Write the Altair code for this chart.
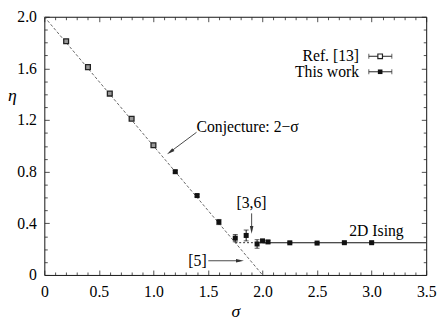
import math
import altair as alt
import pandas as pd

# ---------------- data ----------------
ref_sigma = [0.2, 0.4, 0.6, 0.8, 1.0]
ref_eta = [1.81, 1.61, 1.405, 1.21, 1.005]
ref_err = [0.01, 0.01, 0.01, 0.01, 0.01]

this_sigma = [1.2, 1.4, 1.6, 1.75, 1.85, 1.95, 2.0, 2.05, 2.25, 2.5, 2.75, 3.0]
this_eta = [0.80, 0.615, 0.41, 0.285, 0.306, 0.24, 0.264, 0.256, 0.249, 0.247, 0.25, 0.25]
this_err = [0.01, 0.01, 0.02, 0.028, 0.042, 0.033, 0.01, 0.01, 0.006, 0.006, 0.006, 0.006]

conj_sigma = [0.0, 2.0]
conj_eta = [2.0, 0.0]

ising_eta = 0.25
ising_dotted = [1.75, 2.0]
ising_solid = [2.0, 3.5]

x_ticks = [0.0, 0.1, 0.2, 0.3, 0.4, 0.5, 0.6, 0.7, 0.8, 0.9, 1.0, 1.1, 1.2, 1.3, 1.4, 1.5,
           1.6, 1.7, 1.8, 1.9, 2.0, 2.1, 2.2, 2.3, 2.4, 2.5, 2.6, 2.7, 2.8, 2.9, 3.0, 3.1,
           3.2, 3.3, 3.4, 3.5]
y_ticks = [0.0, 0.1, 0.2, 0.3, 0.4, 0.5, 0.6, 0.7, 0.8, 0.9, 1.0, 1.1, 1.2, 1.3, 1.4, 1.5,
           1.6, 1.7, 1.8, 1.9, 2.0]

# annotations (data coordinates)
notes_left = {"text": ["Conjecture: 2\u2212\u03c3"], "x": [1.395], "y": [1.143]}
notes_center = {"text": ["[3,6]", "[5]", "2D Ising"], "x": [1.899, 1.404, 3.044], "y": [0.56, 0.104, 0.34]}
arrows = {"x": [1.395, 1.90, 1.503], "y": [1.105, 0.477, 0.11],
          "x2": [1.125, 1.90, 1.829], "y2": [0.935, 0.319, 0.11]}

legend_labels = ["Ref. [13]", "This work"]
legend_label_x = 2.885
legend_y = [1.694, 1.574]
legend_sym_x = 3.078
legend_bar = [2.974, 3.185]

# ---------------- layout ----------------
W, H = 389, 263
XD, YD = [0, 3.5], [0, 2]
SX, SY = W / (XD[1] - XD[0]), H / (YD[1] - YD[0])
FONT = "Liberation Serif"
FS = 16

major_x = "abs(datum.value/0.5 - round(datum.value/0.5)) < 1e-6"
major_y = "abs(datum.value/0.4 - round(datum.value/0.4)) < 1e-6"

x_axis = alt.Axis(
    values=x_ticks, grid=True, gridColor="#222", gridWidth=0.8,
    gridDash={"condition": {"test": major_x, "value": [5, H - 10]}, "value": [3, H - 6]},
    ticks=False, domain=False, labelOverlap=False, labelFlush=False, labelBound=False,
    labelExpr=f"datum.value == 0 ? '0' : ({major_x} ? format(datum.value, '.1f') : '')",
    labelFont=FONT, labelFontSize=FS, labelColor="black", labelPadding=9,
    title="\u03c3", titleFont=FONT, titleFontStyle="italic", titleFontWeight="normal",
    titleFontSize=18, titleColor="black", titlePadding=3,
)
y_axis = alt.Axis(
    values=y_ticks, grid=True, gridColor="#222", gridWidth=0.8,
    gridDash={"condition": {"test": major_y, "value": [5, W - 10]}, "value": [3, W - 6]},
    ticks=False, domain=False, labelOverlap=False, labelFlush=False, labelBound=False,
    labelExpr=f"datum.value == 0 ? '0' : ({major_y} ? format(datum.value, '.1f') : '')",
    labelFont=FONT, labelFontSize=FS, labelColor="black", labelPadding=8,
    title="\u03b7", titleFont=FONT, titleFontStyle="italic", titleFontWeight="normal",
    titleFontSize=18, titleColor="black", titleAngle=0, titleAlign="center",
    titleBaseline="middle", titleX=-33, titleY=80,
)


def X(f):
    return alt.X(f, type="quantitative", scale=alt.Scale(domain=XD, nice=False, zero=False), axis=x_axis)


def Y(f):
    return alt.Y(f, type="quantitative", scale=alt.Scale(domain=YD, nice=False, zero=False), axis=y_axis)


ref_df = pd.DataFrame({"s": ref_sigma, "e": ref_eta, "lo": [a - b for a, b in zip(ref_eta, ref_err)],
                       "hi": [a + b for a, b in zip(ref_eta, ref_err)]})
this_df = pd.DataFrame({"s": this_sigma, "e": this_eta, "lo": [a - b for a, b in zip(this_eta, this_err)],
                        "hi": [a + b for a, b in zip(this_eta, this_err)]})

conj = alt.Chart(pd.DataFrame({"s": conj_sigma, "e": conj_eta})).mark_line(
    color="#555", strokeWidth=0.9, strokeDash=[3, 2]).encode(x=X("s"), y=Y("e"))
ising_dot = alt.Chart(pd.DataFrame({"s": ising_dotted, "e": [ising_eta, ising_eta]})).mark_line(
    color="#333", strokeWidth=1, strokeDash=[2, 2]).encode(x=X("s"), y=Y("e"))
ising_line = alt.Chart(pd.DataFrame({"s": ising_solid, "e": [ising_eta, ising_eta]})).mark_line(
    color="#111", strokeWidth=1.1).encode(x=X("s"), y=Y("e"))


def errbars(df):
    base = alt.Chart(df)
    bar = base.mark_rule(color="#111", strokeWidth=1).encode(x=X("s"), y=Y("lo"), y2="hi")
    cap_lo = base.mark_tick(orient="horizontal", color="#111", size=5, thickness=1).encode(x=X("s"), y=Y("lo"))
    cap_hi = base.mark_tick(orient="horizontal", color="#111", size=5, thickness=1).encode(x=X("s"), y=Y("hi"))
    return [bar, cap_lo, cap_hi]


ref_pts = alt.Chart(ref_df).mark_point(shape="square", filled=True, fill="#999", stroke="#222",
                                       strokeWidth=1.3, size=24, opacity=1).encode(x=X("s"), y=Y("e"))
this_pts = alt.Chart(this_df).mark_point(shape="square", filled=True, color="#111", size=26,
                                         opacity=1).encode(x=X("s"), y=Y("e"))

txt_left = alt.Chart(pd.DataFrame(notes_left)).mark_text(
    font=FONT, fontSize=FS, align="left", baseline="middle", color="black").encode(
    x=X("x"), y=Y("y"), text="text:N")
txt_center = alt.Chart(pd.DataFrame(notes_center)).mark_text(
    font=FONT, fontSize=FS, align="center", baseline="middle", color="black").encode(
    x=X("x"), y=Y("y"), text="text:N")

arr_df = pd.DataFrame(arrows)
ang, cx, cy = [], [], []
for x1, y1, x2, y2 in zip(arr_df.x, arr_df.y, arr_df.x2, arr_df.y2):
    dxp, dyp = (x2 - x1) * SX, -(y2 - y1) * SY
    L = math.hypot(dxp, dyp)
    ux, uy = dxp / L, dyp / L
    ang.append(math.degrees(math.atan2(dxp, -dyp)) % 360)
    cx.append(x2 - 4 * ux / SX)
    cy.append(y2 + 4 * uy / SY)
arr_df["ang"], arr_df["cx"], arr_df["cy"] = ang, cx, cy

arr_shaft = alt.Chart(arr_df).mark_rule(color="#333", strokeWidth=0.9).encode(
    x=X("x"), y=Y("y"), x2="cx", y2="cy")
arr_head = alt.Chart(arr_df).mark_point(shape="M0,-1L0.45,1L-0.45,1Z", filled=True, color="#333",
                                        size=64, opacity=1).encode(
    x=X("cx"), y=Y("cy"), angle=alt.Angle("ang:Q", scale=None))

leg_df = pd.DataFrame({"label": legend_labels, "lx": [legend_label_x] * 2, "y": legend_y,
                       "sx": [legend_sym_x] * 2, "b1": [legend_bar[0]] * 2, "b2": [legend_bar[1]] * 2})
leg_text = alt.Chart(leg_df).mark_text(font=FONT, fontSize=FS, align="right", baseline="middle",
                                       color="black").encode(x=X("lx"), y=Y("y"), text="label:N")
leg_bar = alt.Chart(leg_df).mark_rule(color="#222", strokeWidth=1).encode(x=X("b1"), x2="b2", y=Y("y"))
leg_cap1 = alt.Chart(leg_df).mark_tick(orient="vertical", color="#222", size=5, thickness=1).encode(
    x=X("b1"), y=Y("y"))
leg_cap2 = alt.Chart(leg_df).mark_tick(orient="vertical", color="#222", size=5, thickness=1).encode(
    x=X("b2"), y=Y("y"))
leg_ref = alt.Chart(leg_df.iloc[[0]]).mark_point(shape="square", filled=True, fill="#fff", stroke="#222",
                                                 strokeWidth=1.2, size=22, opacity=1).encode(x=X("sx"), y=Y("y"))
leg_this = alt.Chart(leg_df.iloc[[1]]).mark_point(shape="square", filled=True, color="#111", size=22,
                                                  opacity=1).encode(x=X("sx"), y=Y("y"))

layers = [conj, ising_dot, ising_line] + errbars(ref_df) + errbars(this_df) + [
    ref_pts, this_pts, txt_left, txt_center, arr_shaft, arr_head,
    leg_bar, leg_cap1, leg_cap2, leg_ref, leg_this, leg_text]

chart = alt.layer(*layers).properties(
    width=W, height=H,
    autosize=alt.AutoSizeParams(type="none"),
    padding={"left": 37, "top": 6, "right": 11, "bottom": 46},
    background="white",
).configure_view(stroke="#111", strokeWidth=1)

chart.save("out.html", embed_options={"renderer": "svg", "actions": False})
